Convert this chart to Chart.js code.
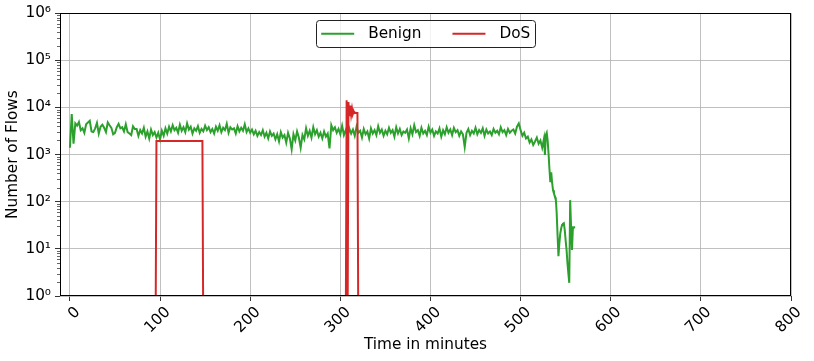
<!DOCTYPE html>
<html>
<head>
<meta charset="utf-8">
<script src="https://cdn.jsdelivr.net/npm/chart.js@4.4.0/dist/chart.umd.min.js"></script>
<style>
html,body{margin:0;padding:0;background:#fff;}
#wrap{width:814px;height:361px;position:relative;}
</style>
</head>
<body>
<div id="wrap"><canvas id="c"></canvas></div>
<script>
// ---------- data ----------
const seriesLabels = ['Benign', 'DoS'];
const xAxisTitle = 'Time in minutes';
const yAxisTitle = 'Number of Flows';

// Benign: one reading every 2 minutes from minute 0 to 526
const benignStepMinutes = 2;
const benignFlows = [
 1400,7200,1700,4600,4100,4900,3300,3600,2900,4400,4800,5200,3100,3000,3600,4700,2800,3900,4300,3700,
 3000,4800,4200,3700,2700,2900,3800,4500,3600,3800,3100,4400,3000,2800,2600,4000,3500,3500,2500,3300,
 2800,3700,2400,3100,2200,3400,2600,3000,2300,2900,2100,3200,2500,3600,2800,3900,3100,4200,3300,3700,
 2900,4300,3200,3800,3000,4600,3400,3900,2800,3600,3200,4000,2900,3500,3100,4100,3300,3800,3000,3500,
 2800,3900,3200,4200,3000,3700,3300,4500,2900,3800,3400,3600,2800,4000,3100,3700,3200,4400,3000,3600,
 2900,3400,2700,3200,2500,3000,2600,3300,2400,2900,2200,3100,2500,2800,2100,2700,1900,3000,2300,2600,
 1800,2900,2200,1300,2700,2000,3100,2300,1400,2600,2100,3600,2500,3200,2300,3800,2700,3300,2400,2900,
 2200,3100,2400,2800,1350,4200,3300,3800,2900,3500,2700,4100,2600,3300,2400,3600,2800,3400,2500,3900,
 2900,3200,2300,3500,2700,3100,2200,3600,2800,3300,2600,4000,2900,3400,2500,3200,2700,3700,2900,3300,
 2400,3800,2800,3500,2600,3100,2900,3400,2200,3600,2700,4200,3000,3300,2500,3700,2800,3200,2600,3900,
 2900,3400,2500,3100,2800,3600,2400,3300,2700,3800,2900,3400,2600,3700,3000,3300,2500,3100,2700,1450,
 2900,3500,2600,3200,2800,3700,2700,3300,2900,3600,2500,3400,2800,3100,2600,3500,2900,3200,2700,3800,
 3000,3300,2600,3500,2900,3200,3400,2800,3900,4600,3300,2500,2900,2200,2400,1800,2100,1600,1900,2300,
 1700,2000,1400,2200
];
// Benign tail: per-minute readings as traffic collapses
const benignTailMinutes = [527,528,529,530,531,532,533,534,535,536,537,538,539,540,541,542,543,544,545,546,547,548,549,550,551,552,553,554,555,556,557,558,559,560];
const benignTailFlows   = [980,2600,2900,2000,1070,500,260,420,250,175,150,130,120,60,20,7,13,21,27,32,34,35,25,15,9.5,5,3,1.9,108,30,9.5,27,28,30];

// DoS: two attack windows (null = no DoS record between them)
const dosMinutes = [94,95,96,147,148,200,306,307,308,309,310,311,312,313,314,315,316,317,318,319,320];
const dosFlows   = [0,0,1950,1950,0,null,0,14300,0,13000,6500,11000,7000,9500,7300,8200,7600,7700,7600,7600,0];

const xTickValues = [0,100,200,300,400,500,600,700,800];
const yTickExponents = [0,1,2,3,4,5,6];
const yMinorMultipliers = [2,3,4,5,6,7,8,9];

// ---------- styling ----------
const COLORS = ['#2ca02c', '#d62728'];
const FONT = 'DejaVu Sans';
const FS = 15.3;
const SUP = ['⁰','¹','²','³','⁴','⁵','⁶','⁷','⁸','⁹'];
const LOG_FLOOR = 0.1; // non-positive values fall below the axis, as matplotlib clips them

const benignPoints = benignFlows.map((v, i) => ({x: i * benignStepMinutes, y: v}))
  .concat(benignTailMinutes.map((m, i) => ({x: m, y: benignTailFlows[i]})));
const dosPoints = dosMinutes.map((m, i) => ({x: m, y: dosFlows[i] === null ? null : Math.max(dosFlows[i], LOG_FLOOR)}));

const framePlugin = {
  id: 'frame',
  afterDatasetsDraw(chart) {
    const {ctx, chartArea: a} = chart;
    const ys = chart.scales.y;
    ctx.save();
    ctx.strokeStyle = '#000';
    ctx.lineWidth = 0.6;
    yTickExponents.slice(0, -1).forEach(e => {
      yMinorMultipliers.forEach(m => {
        const py = Math.round(ys.getPixelForValue(m * Math.pow(10, e))) + 0.5;
        ctx.beginPath();
        ctx.moveTo(a.left - 3, py);
        ctx.lineTo(a.left, py);
        ctx.stroke();
      });
    });
    ctx.lineWidth = 1;
    ctx.strokeRect(Math.round(a.left) + 0.5, Math.round(a.top) + 0.5,
      Math.round(a.right - a.left) - 1, Math.round(a.bottom - a.top) - 1);
    ctx.restore();
  }
};

const legendPlugin = {
  id: 'insideLegend',
  afterDraw(chart) {
    const {ctx, chartArea: a} = chart;
    const ds = chart.data.datasets;
    ctx.save();
    ctx.font = FS + 'px "' + FONT + '"';
    const lineLen = 33, gapLT = 14, gapItems = 31, padL = 5, padR = 4.5;
    const widths = ds.map(d => ctx.measureText(d.label).width);
    let total = padL + padR + gapItems * (ds.length - 1);
    widths.forEach(w => total += lineLen + gapLT + w);
    const cx = (a.left + a.right) / 2;
    const x0 = cx - total / 2;
    const top = a.top + 7, h = 27, r = 3;
    const cy = top + h / 2;
    ctx.beginPath();
    ctx.roundRect(Math.round(x0) + 0.5, Math.round(top) + 0.5, Math.round(total), h, r);
    ctx.fillStyle = 'rgba(255,255,255,0.8)';
    ctx.fill();
    ctx.strokeStyle = '#222';
    ctx.lineWidth = 1;
    ctx.stroke();
    let x = x0 + padL;
    ds.forEach((d, i) => {
      ctx.beginPath();
      ctx.strokeStyle = d.borderColor;
      ctx.lineWidth = 2;
      ctx.moveTo(x, cy);
      ctx.lineTo(x + lineLen, cy);
      ctx.stroke();
      x += lineLen + gapLT;
      ctx.fillStyle = '#000';
      ctx.textBaseline = 'middle';
      ctx.textAlign = 'left';
      ctx.fillText(d.label, x, cy + 0.5);
      x += widths[i] + gapItems;
    });
    ctx.restore();
  }
};

new Chart(document.getElementById('c'), {
  type: 'line',
  data: {
    datasets: [
      {label: seriesLabels[0], data: benignPoints, borderColor: COLORS[0], backgroundColor: COLORS[0],
       borderWidth: 2, pointRadius: 0, tension: 0, order: 1},
      {label: seriesLabels[1], data: dosPoints, borderColor: COLORS[1], backgroundColor: COLORS[1],
       borderWidth: 2, pointRadius: 0, tension: 0, order: 0, spanGaps: false}
    ]
  },
  options: {
    responsive: true,
    maintainAspectRatio: false,
    devicePixelRatio: 1,
    animation: false,
    layout: {padding: {left: 0, top: 13, right: 23, bottom: 0}},
    plugins: {legend: {display: false}, tooltip: {enabled: false}},
    scales: {
      x: {
        type: 'linear', min: -11, max: 800,
        afterBuildTicks: s => { s.ticks = xTickValues.map(v => ({value: v})); },
        afterFit: s => { s.height = 65; },
        ticks: {
          autoSkip: false, minRotation: 45, maxRotation: 45, padding: 2.2,
          color: '#000', font: {family: FONT, size: FS},
          labelOffset: 8
        },
        grid: {color: '#b0b0b0', lineWidth: 0.8, tickLength: 5, tickColor: '#000', tickWidth: 0.8},
        border: {display: false},
        title: {display: true, text: xAxisTitle, color: '#000', font: {family: FONT, size: FS},
                padding: {top: 0, bottom: 6.8}}
      },
      y: {
        type: 'logarithmic', min: 1, max: 1e6,
        afterBuildTicks: s => { s.ticks = yTickExponents.map(e => ({value: Math.pow(10, e), major: true})); },
        afterFit: s => { s.width = 60; },
        ticks: {
          padding: 4, color: '#000', font: {family: FONT, size: FS},
          callback: v => '10' + SUP[Math.round(Math.log10(v))]
        },
        grid: {color: '#b0b0b0', lineWidth: 0.8, tickLength: 5, tickColor: '#000', tickWidth: 0.8},
        border: {display: false},
        title: {display: true, text: yAxisTitle, color: '#000', font: {family: FONT, size: FS},
                padding: {top: 4.3, bottom: 0}}
      }
    }
  },
  plugins: [framePlugin, legendPlugin]
});
</script>
</body>
</html>
